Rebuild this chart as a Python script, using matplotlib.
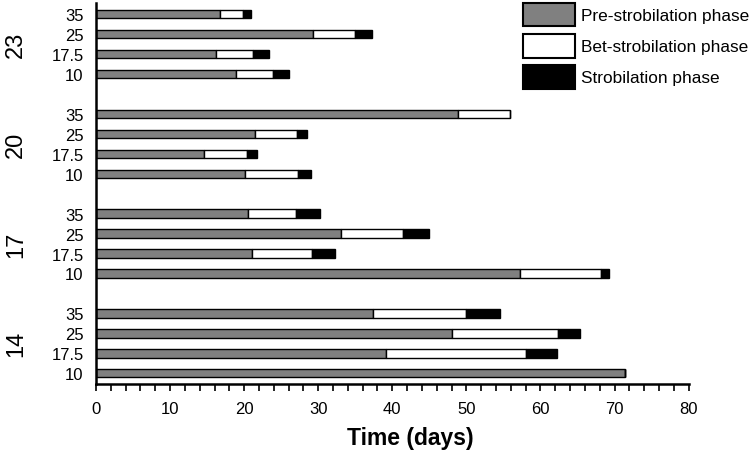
import numpy as np
import matplotlib.pyplot as plt
from matplotlib.patches import Patch
from matplotlib.ticker import MultipleLocator
import matplotlib.transforms as mtransforms

plt.rcParams['font.family'] = ['Liberation Sans', 'DejaVu Sans']

# temperature groups (bottom to top) and densities within each group (bottom to top)
temps = ['14', '17', '20', '23']
densities = ['10', '17.5', '25', '35']

# phase durations in days, one row per temperature, columns follow densities
pre = np.array([[71.4, 39.2, 48.0, 37.4],
                [57.2, 21.1, 33.1, 20.5],
                [20.1, 14.6, 21.4, 48.9],
                [18.9, 16.2, 29.3, 16.8]])
bet = np.array([[0.0, 18.8, 14.4, 12.6],
                [11.0, 8.0, 8.3, 6.5],
                [7.2, 5.8, 5.8, 7.0],
                [5.0, 5.0, 5.7, 3.1]])
strob = np.array([[0.0, 4.2, 2.9, 4.6],
                  [1.1, 3.1, 3.5, 3.2],
                  [1.7, 1.4, 1.3, 0.0],
                  [2.2, 2.2, 2.2, 1.0]])

n_d = len(densities)
ypos = np.array([[g * (n_d + 1) + i for i in range(n_d)] for g in range(len(temps))], dtype=float)

fig = plt.figure(figsize=(7.53, 4.56), dpi=100)
ax = fig.add_axes([0.1275, 0.156, 0.787, 0.836])

h = 0.42
kw = dict(height=h, edgecolor='black', linewidth=1.0)
y = ypos.ravel()
ax.barh(y, pre.ravel(), color='#808080', **kw)
ax.barh(y, bet.ravel(), left=pre.ravel(), color='white', **kw)
ax.barh(y, strob.ravel(), left=(pre + bet).ravel(), color='black', **kw)

ax.set_xlim(0, 80)
ax.set_ylim(-0.53, 18.57)
ax.xaxis.set_major_locator(MultipleLocator(10))
ax.xaxis.set_minor_locator(MultipleLocator(2))
ax.tick_params(axis='x', which='both', direction='out', length=5, width=1.2, labelsize=12, pad=7)
ax.set_yticks(y)
ax.set_yticklabels(densities * len(temps))
ax.tick_params(axis='y', length=0, labelsize=12, pad=9)

for s in ['top', 'right']:
    ax.spines[s].set_visible(False)
for s in ['left', 'bottom']:
    ax.spines[s].set_linewidth(1.8)

trans = mtransforms.blended_transform_factory(ax.transAxes, ax.transData)
for g, t in enumerate(temps):
    ax.text(-0.135, ypos[g].mean(), t, transform=trans, rotation=90,
            ha='center', va='center', fontsize=17)

ax.set_xlabel('Time (days)', fontsize=16.5, fontweight='bold')
ax.xaxis.set_label_coords(0.53, -0.11)

handles = [Patch(facecolor='#808080', edgecolor='black', linewidth=1.5, label='Pre-strobilation phase'),
           Patch(facecolor='white', edgecolor='black', linewidth=1.5, label='Bet-strobilation phase'),
           Patch(facecolor='black', edgecolor='black', linewidth=1.5, label='Strobilation phase')]
ax.legend(handles=handles, loc='upper right', bbox_to_anchor=(1.103, 1.0), frameon=False,
          fontsize=12.4, handlelength=3.0, handleheight=1.75, labelspacing=0.42,
          handletextpad=0.4, borderaxespad=0, borderpad=0)

fig.savefig('out.png', dpi=100)
